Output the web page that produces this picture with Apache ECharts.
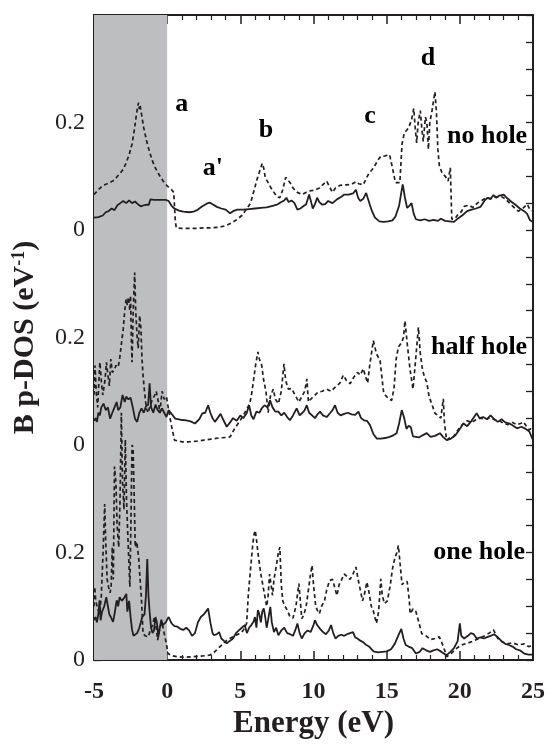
<!DOCTYPE html>
<html>
<head>
<meta charset="utf-8">
<script src="https://cdn.jsdelivr.net/npm/echarts@6/dist/echarts.min.js"></script>
<style>
html,body{margin:0;padding:0;background:#fff;}
#chart{width:549px;height:746px;}
</style>
</head>
<body>
<div id="chart"></div>
<script>
// ---------- DATA (panel-local values, eV^-1) ----------
const panelNames = ['no hole', 'half hole', 'one hole'];
const panelOffsets = [0.8, 0.4, 0];
const xTickLabels = ['-5', '0', '5', '10', '15', '20', '25'];
const yTickLabels = ['0', '0.2'];
const peakLabels = ['a', "a'", 'b', 'c', 'd'];

const noHoleDotted = [[-5,0.066],[-4.7,0.075],[-4.4,0.083],[-4.1,0.086],[-3.8,0.09],[-3.6,0.093],[-3.4,0.1],[-3.2,0.106],[-3.0,0.113],[-2.8,0.125],[-2.6,0.14],[-2.4,0.16],[-2.25,0.185],[-2.1,0.215],[-2.0,0.232],[-1.95,0.237],[-1.9,0.225],[-1.85,0.232],[-1.75,0.215],[-1.6,0.19],[-1.4,0.165],[-1.2,0.145],[-1.0,0.128],[-0.8,0.115],[-0.6,0.105],[-0.4,0.096],[-0.2,0.088],[0,0.082],[0.3,0.075],[0.45,0.07],[0.55,0.02],[0.62,0.004],[1,0.003],[1.5,0.003],[2,0.003],[2.5,0.004],[3,0.004],[3.5,0.005],[4,0.008],[4.4,0.013],[4.8,0.02],[5.1,0.027],[5.4,0.038],[5.7,0.05],[5.95,0.075],[6.15,0.095],[6.35,0.112],[6.5,0.124],[6.6,0.115],[6.7,0.098],[6.9,0.088],[7.1,0.078],[7.3,0.07],[7.5,0.062],[7.7,0.06],[7.9,0.075],[8.1,0.098],[8.2,0.1],[8.4,0.088],[8.6,0.078],[8.9,0.07],[9.2,0.066],[9.5,0.07],[9.8,0.073],[10.1,0.074],[10.4,0.078],[10.7,0.086],[10.9,0.091],[11.1,0.08],[11.3,0.07],[11.5,0.078],[11.8,0.083],[12.2,0.084],[12.6,0.085],[12.9,0.09],[13.1,0.086],[13.4,0.084],[13.6,0.096],[13.8,0.106],[14.0,0.112],[14.2,0.12],[14.4,0.13],[14.6,0.137],[14.9,0.138],[15.2,0.14],[15.4,0.115],[15.6,0.088],[15.9,0.088],[16.05,0.16],[16.2,0.18],[16.5,0.19],[16.7,0.205],[16.85,0.226],[16.95,0.19],[17.05,0.162],[17.15,0.2],[17.3,0.222],[17.4,0.19],[17.5,0.165],[17.65,0.21],[17.75,0.2],[17.85,0.15],[17.95,0.2],[18.1,0.222],[18.2,0.24],[18.3,0.257],[18.4,0.22],[18.5,0.15],[18.6,0.12],[18.8,0.105],[19.0,0.1],[19.2,0.091],[19.35,0.116],[19.45,0.02],[19.7,0.022],[19.9,0.03],[20.1,0.034],[20.3,0.044],[20.6,0.046],[20.9,0.042],[21.2,0.05],[21.5,0.055],[21.8,0.06],[22.1,0.058],[22.4,0.061],[22.8,0.063],[23.1,0.058],[23.4,0.05],[23.7,0.042],[24.0,0.035],[24.3,0.04],[24.6,0.048],[24.8,0.038],[25,0.035]];

const noHoleSolid = [[-5,0.023],[-4.7,0.024],[-4.4,0.027],[-4.2,0.033],[-4.0,0.035],[-3.8,0.04],[-3.6,0.037],[-3.4,0.046],[-3.2,0.05],[-3.0,0.054],[-2.8,0.05],[-2.6,0.055],[-2.4,0.05],[-2.2,0.053],[-2.0,0.048],[-1.8,0.044],[-1.6,0.046],[-1.4,0.047],[-1.25,0.047],[-1.15,0.057],[-0.9,0.056],[-0.5,0.056],[-0.1,0.056],[0.1,0.054],[0.3,0.045],[0.5,0.04],[0.8,0.036],[1.1,0.034],[1.5,0.033],[1.8,0.034],[2.1,0.038],[2.4,0.044],[2.7,0.049],[2.9,0.051],[3.1,0.048],[3.4,0.043],[3.7,0.04],[4.0,0.038],[4.3,0.031],[4.5,0.035],[4.8,0.038],[5.2,0.038],[5.6,0.039],[6.0,0.04],[6.4,0.041],[6.8,0.042],[7.2,0.045],[7.5,0.047],[7.8,0.052],[8.0,0.055],[8.15,0.06],[8.3,0.052],[8.5,0.055],[8.7,0.05],[8.9,0.038],[9.1,0.04],[9.3,0.044],[9.5,0.048],[9.7,0.066],[9.8,0.056],[9.95,0.04],[10.1,0.048],[10.25,0.06],[10.4,0.052],[10.6,0.047],[10.8,0.048],[11.0,0.054],[11.3,0.05],[11.6,0.057],[11.9,0.062],[12.1,0.066],[12.4,0.066],[12.7,0.068],[12.9,0.075],[13.05,0.06],[13.2,0.054],[13.4,0.058],[13.6,0.069],[13.7,0.06],[13.85,0.047],[14.0,0.035],[14.2,0.023],[14.5,0.016],[14.8,0.015],[15.1,0.016],[15.4,0.018],[15.6,0.025],[15.85,0.045],[16.0,0.07],[16.1,0.085],[16.25,0.06],[16.4,0.041],[16.55,0.045],[16.7,0.05],[16.85,0.03],[17.0,0.02],[17.3,0.018],[17.6,0.02],[17.9,0.017],[18.2,0.019],[18.5,0.017],[18.7,0.021],[19.0,0.017],[19.3,0.016],[19.6,0.015],[19.9,0.022],[20.2,0.028],[20.5,0.035],[20.8,0.038],[21.1,0.04],[21.4,0.043],[21.7,0.055],[21.9,0.06],[22.1,0.058],[22.3,0.065],[22.5,0.06],[22.7,0.064],[23.0,0.066],[23.2,0.06],[23.5,0.053],[23.8,0.047],[24.1,0.04],[24.4,0.035],[24.6,0.03],[24.8,0.018],[25,0.015]];

const halfHoleDotted = [[-5,0.093],[-4.93,0.148],[-4.85,0.1],[-4.75,0.07],[-4.6,0.154],[-4.5,0.12],[-4.4,0.093],[-4.25,0.12],[-4.15,0.154],[-4.05,0.13],[-3.95,0.11],[-3.85,0.16],[-3.75,0.135],[-3.6,0.14],[-3.5,0.148],[-3.35,0.145],[-3.25,0.16],[-3.12,0.19],[-3.0,0.216],[-2.9,0.25],[-2.8,0.272],[-2.72,0.26],[-2.65,0.275],[-2.55,0.25],[-2.5,0.278],[-2.45,0.2],[-2.4,0.154],[-2.32,0.25],[-2.22,0.321],[-2.15,0.25],[-2.05,0.2],[-1.98,0.18],[-1.88,0.241],[-1.8,0.22],[-1.72,0.16],[-1.65,0.13],[-1.55,0.1],[-1.42,0.068],[-1.3,0.06],[-1.15,0.075],[-1.0,0.085],[-0.85,0.093],[-0.75,0.1],[-0.6,0.08],[-0.5,0.06],[-0.35,0.1],[-0.2,0.085],[-0.05,0.09],[0.1,0.065],[0.3,0.035],[0.5,0.009],[1.0,0.006],[1.5,0.006],[2.0,0.007],[2.5,0.009],[3.0,0.011],[3.5,0.013],[4.0,0.014],[4.3,0.015],[4.6,0.03],[5.0,0.046],[5.3,0.06],[5.65,0.077],[5.8,0.1],[5.9,0.12],[6.05,0.15],[6.2,0.173],[6.3,0.16],[6.45,0.15],[6.6,0.12],[6.75,0.1],[6.9,0.06],[7.05,0.09],[7.25,0.104],[7.4,0.085],[7.6,0.077],[7.8,0.1],[7.98,0.151],[8.1,0.12],[8.28,0.104],[8.5,0.105],[8.7,0.095],[9.0,0.08],[9.2,0.09],[9.4,0.1],[9.55,0.123],[9.65,0.08],[9.8,0.085],[10.0,0.09],[10.3,0.098],[10.6,0.1],[10.9,0.104],[11.2,0.1],[11.5,0.108],[11.8,0.115],[12.04,0.13],[12.25,0.12],[12.5,0.114],[12.75,0.126],[13.0,0.135],[13.2,0.13],[13.4,0.142],[13.55,0.128],[13.7,0.115],[13.85,0.15],[14.09,0.194],[14.3,0.17],[14.55,0.157],[14.7,0.12],[14.8,0.096],[15.0,0.09],[15.2,0.085],[15.34,0.083],[15.5,0.105],[15.65,0.16],[15.8,0.182],[16.0,0.19],[16.15,0.2],[16.25,0.231],[16.4,0.19],[16.6,0.14],[16.8,0.104],[16.95,0.15],[17.17,0.219],[17.3,0.17],[17.45,0.14],[17.6,0.125],[17.74,0.117],[17.9,0.09],[18.1,0.075],[18.3,0.059],[18.5,0.055],[18.7,0.05],[18.87,0.086],[18.95,0.04],[19.1,0.009],[19.3,0.013],[19.56,0.015],[19.8,0.025],[20.0,0.033],[20.25,0.04],[20.5,0.045],[20.8,0.042],[21.1,0.047],[21.4,0.05],[21.7,0.048],[22.07,0.05],[22.4,0.047],[22.7,0.045],[23.0,0.04],[23.3,0.038],[23.6,0.042],[23.9,0.038],[24.15,0.04],[24.35,0.043],[24.55,0.035],[24.7,0.028],[24.85,0.03],[25,0.028]];

const halfHoleSolid = [[-5,0.045],[-4.9,0.05],[-4.8,0.043],[-4.7,0.06],[-4.6,0.055],[-4.5,0.07],[-4.35,0.077],[-4.2,0.065],[-4.05,0.07],[-3.9,0.049],[-3.75,0.06],[-3.6,0.07],[-3.45,0.08],[-3.35,0.065],[-3.2,0.07],[-3.05,0.093],[-2.9,0.08],[-2.8,0.09],[-2.65,0.085],[-2.5,0.088],[-2.35,0.07],[-2.2,0.049],[-2.05,0.043],[-1.9,0.06],[-1.75,0.068],[-1.6,0.06],[-1.45,0.072],[-1.3,0.075],[-1.2,0.115],[-1.1,0.07],[-0.95,0.06],[-0.8,0.075],[-0.65,0.065],[-0.5,0.06],[-0.35,0.068],[-0.2,0.06],[-0.05,0.052],[0.1,0.065],[0.3,0.058],[0.55,0.049],[0.9,0.047],[1.3,0.046],[1.6,0.044],[1.9,0.04],[2.2,0.048],[2.4,0.059],[2.6,0.06],[2.8,0.074],[2.95,0.06],[3.1,0.05],[3.26,0.043],[3.45,0.05],[3.65,0.058],[3.85,0.046],[4.07,0.034],[4.3,0.042],[4.5,0.05],[4.75,0.045],[5.0,0.055],[5.2,0.05],[5.43,0.059],[5.6,0.074],[5.75,0.055],[5.9,0.048],[6.1,0.062],[6.3,0.06],[6.46,0.068],[6.65,0.074],[6.85,0.07],[7.03,0.083],[7.2,0.07],[7.4,0.062],[7.6,0.062],[7.8,0.055],[8.0,0.06],[8.2,0.052],[8.39,0.046],[8.6,0.055],[8.85,0.068],[9.05,0.055],[9.25,0.06],[9.4,0.065],[9.54,0.074],[9.7,0.06],[9.9,0.055],[10.1,0.05],[10.3,0.058],[10.45,0.062],[10.65,0.055],[10.9,0.052],[11.15,0.06],[11.3,0.065],[11.47,0.074],[11.65,0.06],[11.85,0.055],[12.1,0.058],[12.35,0.06],[12.6,0.057],[12.85,0.056],[13.07,0.062],[13.25,0.05],[13.45,0.046],[13.65,0.045],[13.86,0.037],[14.1,0.02],[14.32,0.012],[14.6,0.012],[14.9,0.013],[15.2,0.015],[15.45,0.018],[15.68,0.022],[15.85,0.04],[16.03,0.065],[16.2,0.05],[16.35,0.03],[16.5,0.036],[16.65,0.033],[16.8,0.016],[17.0,0.015],[17.2,0.014],[17.45,0.018],[17.74,0.022],[18.0,0.015],[18.3,0.017],[18.64,0.022],[18.85,0.015],[19.1,0.009],[19.4,0.012],[19.7,0.018],[19.95,0.028],[20.25,0.04],[20.5,0.035],[20.8,0.045],[21.15,0.059],[21.35,0.05],[21.6,0.052],[21.85,0.048],[22.1,0.055],[22.35,0.048],[22.6,0.043],[22.85,0.048],[23.1,0.042],[23.4,0.04],[23.7,0.035],[23.9,0.031],[24.2,0.034],[24.5,0.03],[24.75,0.025],[25,0.009]];

const oneHoleDotted = [[-5,0.1],[-4.95,0.136],[-4.88,0.11],[-4.75,0.095],[-4.6,0.086],[-4.5,0.12],[-4.38,0.2],[-4.27,0.29],[-4.2,0.22],[-4.1,0.15],[-4.0,0.135],[-3.9,0.125],[-3.83,0.136],[-3.75,0.21],[-3.68,0.15],[-3.6,0.36],[-3.5,0.33],[-3.42,0.25],[-3.31,0.21],[-3.22,0.3],[-3.13,0.46],[-3.05,0.33],[-2.95,0.28],[-2.86,0.41],[-2.78,0.3],[-2.7,0.24],[-2.6,0.17],[-2.55,0.136],[-2.48,0.25],[-2.4,0.4],[-2.33,0.395],[-2.25,0.3],[-2.18,0.21],[-2.08,0.22],[-1.95,0.191],[-1.85,0.15],[-1.75,0.11],[-1.65,0.049],[-1.5,0.045],[-1.3,0.043],[-1.15,0.055],[-1.0,0.065],[-0.87,0.08],[-0.75,0.06],[-0.65,0.037],[-0.5,0.06],[-0.35,0.07],[-0.2,0.049],[-0.05,0.03],[0.05,0.012],[0.3,0.008],[0.7,0.006],[1.2,0.005],[1.7,0.006],[2.2,0.007],[2.6,0.008],[2.9,0.009],[3.2,0.014],[3.5,0.022],[3.8,0.03],[4.1,0.037],[4.4,0.042],[4.7,0.046],[5.0,0.05],[5.2,0.055],[5.43,0.068],[5.55,0.123],[5.7,0.17],[5.85,0.216],[5.95,0.235],[6.02,0.241],[6.1,0.225],[6.2,0.2],[6.4,0.16],[6.6,0.13],[6.8,0.1],[6.9,0.12],[7.0,0.16],[7.1,0.14],[7.2,0.12],[7.3,0.15],[7.48,0.179],[7.6,0.2],[7.7,0.21],[7.8,0.14],[7.9,0.11],[8.05,0.1],[8.2,0.093],[8.4,0.08],[8.6,0.078],[8.8,0.1],[9.0,0.142],[9.1,0.11],[9.2,0.077],[9.35,0.085],[9.5,0.1],[9.65,0.13],[9.8,0.16],[9.9,0.176],[10.0,0.14],[10.15,0.1],[10.3,0.09],[10.4,0.086],[10.55,0.1],[10.75,0.11],[10.9,0.13],[11.1,0.148],[11.3,0.15],[11.45,0.135],[11.6,0.12],[11.75,0.14],[11.9,0.148],[12.1,0.16],[12.3,0.155],[12.5,0.15],[12.7,0.16],[12.9,0.173],[13.05,0.15],[13.2,0.13],[13.35,0.11],[13.5,0.125],[13.65,0.145],[13.8,0.125],[13.95,0.1],[14.1,0.09],[14.3,0.068],[14.45,0.09],[14.6,0.151],[14.7,0.12],[14.85,0.105],[15.05,0.11],[15.25,0.14],[15.4,0.17],[15.57,0.191],[15.7,0.2],[15.8,0.213],[15.95,0.17],[16.05,0.14],[16.2,0.145],[16.4,0.146],[16.55,0.11],[16.6,0.086],[16.8,0.095],[17.0,0.09],[17.2,0.07],[17.4,0.049],[17.7,0.045],[18.0,0.038],[18.3,0.04],[18.6,0.043],[18.8,0.03],[19.0,0.015],[19.1,0.006],[19.4,0.012],[19.8,0.022],[20.1,0.028],[20.5,0.031],[20.9,0.035],[21.3,0.04],[21.7,0.045],[22.0,0.05],[22.3,0.056],[22.6,0.04],[22.9,0.034],[23.2,0.03],[23.6,0.032],[24.0,0.028],[24.4,0.03],[24.7,0.025],[25,0.027]];

const oneHoleSolid = [[-5,0.074],[-4.9,0.08],[-4.8,0.07],[-4.7,0.086],[-4.62,0.111],[-4.55,0.074],[-4.45,0.09],[-4.3,0.1],[-4.16,0.117],[-4.05,0.1],[-3.95,0.085],[-3.85,0.08],[-3.7,0.071],[-3.6,0.085],[-3.45,0.111],[-3.35,0.1],[-3.25,0.117],[-3.1,0.11],[-2.95,0.115],[-2.79,0.123],[-2.72,0.09],[-2.6,0.11],[-2.5,0.08],[-2.4,0.056],[-2.3,0.045],[-2.2,0.043],[-2.05,0.05],[-1.9,0.06],[-1.7,0.08],[-1.55,0.085],[-1.45,0.12],[-1.36,0.188],[-1.28,0.12],[-1.2,0.09],[-1.1,0.06],[-1.0,0.05],[-0.9,0.055],[-0.8,0.08],[-0.7,0.07],[-0.6,0.043],[-0.5,0.06],[-0.4,0.075],[-0.3,0.065],[-0.2,0.062],[-0.1,0.07],[0.0,0.075],[0.1,0.08],[0.3,0.068],[0.5,0.063],[0.7,0.062],[0.9,0.058],[1.1,0.056],[1.3,0.06],[1.5,0.055],[1.7,0.045],[1.9,0.05],[2.1,0.07],[2.3,0.08],[2.5,0.085],[2.65,0.09],[2.8,0.096],[2.95,0.07],[3.1,0.05],[3.2,0.046],[3.4,0.048],[3.55,0.052],[3.7,0.04],[3.9,0.035],[4.07,0.031],[4.3,0.036],[4.5,0.04],[4.7,0.05],[4.9,0.055],[5.1,0.06],[5.3,0.065],[5.45,0.05],[5.6,0.06],[5.75,0.065],[5.9,0.071],[6.0,0.08],[6.1,0.06],[6.2,0.093],[6.3,0.085],[6.4,0.07],[6.5,0.09],[6.6,0.096],[6.7,0.08],[6.8,0.06],[6.9,0.075],[7.05,0.099],[7.15,0.07],[7.3,0.052],[7.45,0.06],[7.6,0.046],[7.8,0.055],[8.0,0.06],[8.2,0.05],[8.4,0.048],[8.6,0.045],[8.75,0.055],[8.9,0.068],[9.05,0.05],[9.2,0.04],[9.4,0.05],[9.6,0.055],[9.8,0.052],[10.0,0.065],[10.1,0.074],[10.25,0.065],[10.45,0.058],[10.65,0.052],[10.85,0.048],[11.05,0.055],[11.2,0.065],[11.35,0.05],[11.5,0.04],[11.7,0.045],[11.9,0.047],[12.1,0.045],[12.3,0.048],[12.5,0.05],[12.7,0.052],[12.85,0.042],[13.0,0.04],[13.2,0.036],[13.4,0.033],[13.6,0.028],[13.8,0.025],[14.1,0.016],[14.4,0.014],[14.7,0.015],[15.0,0.016],[15.3,0.02],[15.55,0.03],[15.8,0.046],[16.0,0.058],[16.15,0.04],[16.3,0.028],[16.5,0.025],[16.75,0.022],[17.0,0.012],[17.25,0.015],[17.45,0.022],[17.7,0.018],[17.95,0.015],[18.2,0.018],[18.45,0.02],[18.7,0.016],[18.9,0.012],[19.1,0.009],[19.35,0.015],[19.6,0.022],[19.85,0.035],[20.0,0.068],[20.1,0.045],[20.3,0.04],[20.55,0.045],[20.75,0.05],[20.95,0.048],[21.15,0.04],[21.4,0.042],[21.65,0.04],[21.9,0.043],[22.1,0.045],[22.35,0.048],[22.6,0.042],[22.85,0.035],[23.1,0.03],[23.35,0.028],[23.6,0.025],[23.85,0.02],[24.1,0.018],[24.4,0.012],[24.7,0.01],[25,0.01]];

// ---------- LAYOUT / STYLE ----------
const INK = '#231f20';
const SERIF = '"Liberation Serif","Times New Roman",serif';
// annotation anchors in data space [energy, stacked value]
const peakLabelPos = [[1.0, 1.033], [3.13, 0.915], [6.76, 0.986], [13.87, 1.012], [17.83, 1.12]];
const panelLabelPos = [[24.6, 0.975], [24.6, 0.582], [24.46, 0.201]];

const panels = [
  {dotted: noHoleDotted, solid: noHoleSolid},
  {dotted: halfHoleDotted, solid: halfHoleSolid},
  {dotted: oneHoleDotted, solid: oneHoleSolid}
];

function shift(arr, off) { return arr.map(p => [p[0], +(p[1] + off).toFixed(4)]); }

const series = [];
series.push({
  type: 'line', data: [], silent: true, z: 1,
  markArea: {silent: true, itemStyle: {color: '#bcbec0'}, data: [[{xAxis: -5}, {xAxis: 0}]]}
});
panels.forEach((p, i) => {
  series.push({
    type: 'line', data: shift(p.dotted, panelOffsets[i]), showSymbol: false, symbol: 'none',
    lineStyle: {color: INK, width: 1.7, type: [4, 3]}, z: 3, silent: true
  });
  series.push({
    type: 'line', data: shift(p.solid, panelOffsets[i]), showSymbol: false, symbol: 'none',
    lineStyle: {color: INK, width: 1.8}, z: 4, silent: true
  });
});
const labelStyle = {show: true, position: [0, 0], verticalAlign: 'middle', opacity: 1,
  formatter: d => d.name, fontFamily: SERIF, fontWeight: 'bold', fontSize: 26, color: '#000'};
series.push({
  type: 'scatter', symbolSize: 0, silent: true, z: 6, itemStyle: {opacity: 1},
  data: peakLabels.map((t, i) => ({value: peakLabelPos[i], name: t})),
  label: Object.assign({}, labelStyle, {align: 'center'})
});
series.push({
  type: 'scatter', symbolSize: 0, silent: true, z: 6, itemStyle: {opacity: 1},
  data: panelNames.map((t, i) => ({value: panelLabelPos[i], name: t})),
  label: Object.assign({}, labelStyle, {align: 'right'})
});

function yLabel(v) {
  const r = Math.round(v * 100);
  if (r >= 120) return '';
  if (r % 40 === 0) return yTickLabels[0];
  if (r % 40 === 20) return yTickLabels[1];
  return '';
}

const axisLine = {show: true, onZero: false, lineStyle: {color: INK, width: 2}};
const option = {
  animation: false,
  backgroundColor: '#fff',
  grid: {left: 94, right: 16, top: 15, bottom: 86, containLabel: false},
  xAxis: [{
    type: 'value', min: -5, max: 25, interval: 5, position: 'bottom',
    axisLine: axisLine,
    axisTick: {show: true, inside: true, length: 9, lineStyle: {color: INK, width: 1.5}},
    minorTick: {show: true, splitNumber: 5, length: 5, lineStyle: {color: INK, width: 1.2}},
    splitLine: {show: false},
    axisLabel: {margin: 20, fontFamily: SERIF, fontWeight: 'bold', fontSize: 24, color: INK,
      formatter: v => xTickLabels[Math.round((v + 5) / 5)] || ''},
    name: 'Energy (eV)', nameLocation: 'middle', nameGap: 46,
    nameTextStyle: {fontFamily: SERIF, fontWeight: 'bold', fontSize: 31, color: INK}
  }, {
    type: 'value', min: -5, max: 25, interval: 5, position: 'top',
    axisLine: axisLine,
    axisTick: {show: true, inside: true, length: 9, lineStyle: {color: INK, width: 1.5}},
    minorTick: {show: true, splitNumber: 5, length: 5, lineStyle: {color: INK, width: 1.2}},
    splitLine: {show: false}, axisLabel: {show: false}
  }],
  yAxis: [{
    type: 'value', min: 0, max: 1.2, interval: 0.05, position: 'left',
    axisLine: axisLine,
    axisTick: {show: true, inside: true, length: 7, lineStyle: {color: INK, width: 1.3}},
    splitLine: {show: false},
    axisLabel: {margin: 9, fontFamily: SERIF, fontSize: 24, color: INK, formatter: yLabel},
    name: 'B p-DOS (eV{sup|-1})', nameLocation: 'middle', nameGap: 54,
    nameTextStyle: {fontFamily: SERIF, fontWeight: 'bold', fontSize: 30, color: INK,
      rich: {sup: {fontFamily: SERIF, fontWeight: 'bold', fontSize: 18, color: INK, verticalAlign: 'top', padding: [0, 0, 12, 0]}}}
  }, {
    type: 'value', min: 0, max: 1.2, interval: 0.05, position: 'right',
    axisLine: axisLine,
    axisTick: {show: true, inside: true, length: 7, lineStyle: {color: INK, width: 1.3}},
    splitLine: {show: false}, axisLabel: {show: false}
  }],
  series: series
};

const chart = echarts.init(document.getElementById('chart'), null, {renderer: 'canvas'});
chart.setOption(option);
</script>
</body>
</html>
